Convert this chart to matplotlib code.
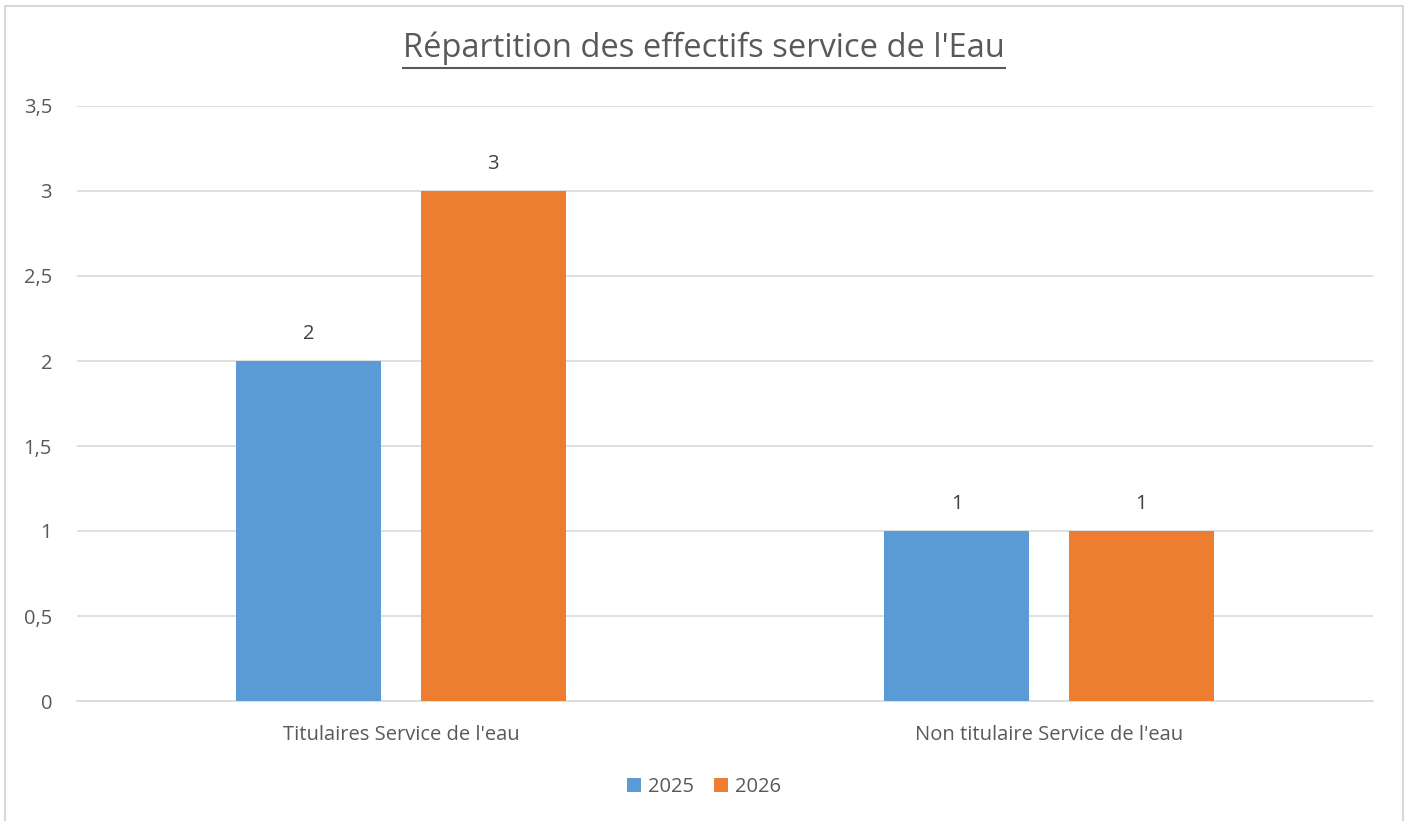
import matplotlib
matplotlib.use('Agg')
import matplotlib.pyplot as plt
from matplotlib.patches import Rectangle
import numpy as np

categories = ["Titulaires Service de l'eau", "Non titulaire Service de l'eau"]
series = ['2025', '2026']
values_2025 = [2, 1]
values_2026 = [3, 1]
yticks = [0, 0.5, 1, 1.5, 2, 2.5, 3, 3.5]
title = "Répartition des effectifs service de l'Eau"

blue = '#5B9BD5'
orange = '#ED7D31'
grey = '#595959'

plt.rcParams['font.family'] = ['Open Sans', 'DejaVu Sans']

W, H = 1408, 821
fig = plt.figure(figsize=(W / 100, H / 100), dpi=100)

# chart frame
fig.patches.append(Rectangle((5 / W, -0.1), (1403 - 5) / W, (H - 6) / H + 0.1,
                             transform=fig.transFigure, fill=False,
                             edgecolor='#D9D9D9', linewidth=1.5))

ax = fig.add_axes([77 / W, (H - 701) / H, (1373 - 77) / W, (701 - 106) / H])

x = np.arange(len(categories))
w = 0.224
ax.bar(x - 0.1425, values_2025, w, color=blue, label=series[0], zorder=3)
ax.bar(x + 0.1425, values_2026, w, color=orange, label=series[1], zorder=3)

for xs, vals in [(x - 0.1425, values_2025), (x + 0.1425, values_2026)]:
    for xi, v in zip(xs, vals):
        ax.text(xi, v + 0.1, str(v), ha='center', va='bottom', fontsize=14.5, color='#404040')

ax.set_xlim(-0.5, len(categories) - 0.5)
ax.set_ylim(0, 3.5)
ax.set_yticks(yticks)
ax.set_yticklabels([('%g' % t).replace('.', ',') for t in yticks])
ax.set_xticks(x)
ax.set_xticklabels(categories)
ax.tick_params(axis='y', length=0, pad=18, labelsize=14.5, labelcolor=grey)
ax.tick_params(axis='x', length=0, pad=17, labelsize=14.5, labelcolor=grey)
ax.grid(axis='y', color='#D9D9D9', linewidth=1.2, zorder=0)
for s in ['top', 'right', 'left']:
    ax.spines[s].set_visible(False)
ax.spines['bottom'].set_color('#D9D9D9')
ax.spines['bottom'].set_linewidth(1.2)

t = fig.text(0.5, (H - 48) / H, title, ha='center', va='center', fontsize=23.5, color=grey)
fig.canvas.draw()
bb = t.get_window_extent().transformed(fig.transFigure.inverted())
fig.add_artist(plt.Line2D([bb.x0, bb.x1], [(H - 68) / H] * 2,
                          transform=fig.transFigure, color=grey, linewidth=1.5))

fig.legend(loc='center', bbox_to_anchor=(0.5, (H - 787) / H), ncol=2, frameon=False,
           fontsize=14.5, handlelength=0.7, handleheight=0.7, handletextpad=0.35,
           columnspacing=1.0, labelcolor=grey)

fig.savefig('out.png', dpi=100)
